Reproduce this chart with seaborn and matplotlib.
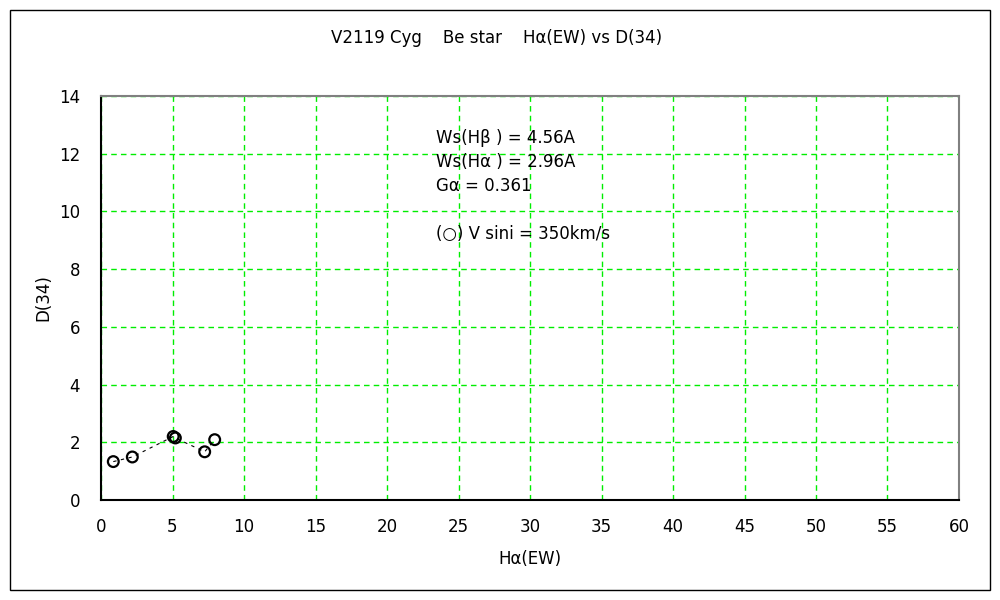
import numpy as np
import pandas as pd
import matplotlib
matplotlib.use("Agg")
import matplotlib.pyplot as plt
import seaborn as sns

# H-alpha equivalent width vs Balmer jump D(34)
ha_ew = [0.86, 2.19, 5.05, 5.2, 7.25, 7.95]
d34 = [1.33, 1.49, 2.2, 2.15, 1.67, 2.09]

x_ticks = list(range(0, 61, 5))
y_ticks = list(range(0, 15, 2))

notes = ["Ws(H\u03b2 ) = 4.56A", "Ws(H\u03b1 ) = 2.96A", "G\u03b1 = 0.361", "", "(\u25cb) V sini = 350km/s"]

df = pd.DataFrame({"Ha": ha_ew, "D34": d34})

sns.set_style("white")
plt.rcParams["font.family"] = ["DejaVu Sans", "Noto Sans CJK JP"]
plt.rcParams["text.color"] = "black"
plt.rcParams["axes.labelcolor"] = "black"
plt.rcParams["xtick.color"] = "black"
plt.rcParams["ytick.color"] = "black"

fig = plt.figure(figsize=(10, 6), dpi=100)
ax = fig.add_axes([0.101, 0.1667, 0.858, 0.6733])

sns.lineplot(x="Ha", y="D34", data=df, ax=ax, color="black", lw=0.8,
             linestyle=(0, (3, 4)), sort=True, estimator=None)
sns.scatterplot(x="Ha", y="D34", data=df, ax=ax, marker="o", s=60,
                facecolors="none", edgecolor="black", linewidth=1.6, zorder=3)

ax.set_xlim(0, 60)
ax.set_ylim(0, 14)
ax.set_xticks(x_ticks)
ax.set_yticks(y_ticks)
ax.tick_params(labelsize=12, direction="in", length=3)
ax.tick_params(axis="x", pad=13)
ax.tick_params(axis="y", pad=15)
ax.grid(True, color="#00ee00", linestyle=(0, (4, 3)), linewidth=1)
ax.set_axisbelow(True)
for s in ["left", "bottom"]:
    ax.spines[s].set_color("black")
    ax.spines[s].set_linewidth(1.5)
for s in ["top", "right"]:
    ax.spines[s].set_color("gray")
    ax.spines[s].set_linewidth(1.5)

ax.set_xlabel("H\u03b1(EW)", fontsize=12)
ax.set_ylabel("D(34)", fontsize=12)
ax.xaxis.set_label_coords(0.5, -0.124)
ax.yaxis.set_label_coords(-0.057, 0.5)

fig.text(0.497, 0.937, "V2119 Cyg    Be star    H\u03b1(EW) vs D(34)",
         ha="center", va="center", fontsize=12)

for i, t in enumerate(notes):
    ax.text(23.4, 12.55 - i * 0.83, t, fontsize=12, va="center")

fig.patches.append(plt.Rectangle((0.01, 0.0167), 0.98, 0.9667, transform=fig.transFigure,
                                 fill=False, edgecolor="black", linewidth=1))

fig.savefig("out.png", dpi=100)
